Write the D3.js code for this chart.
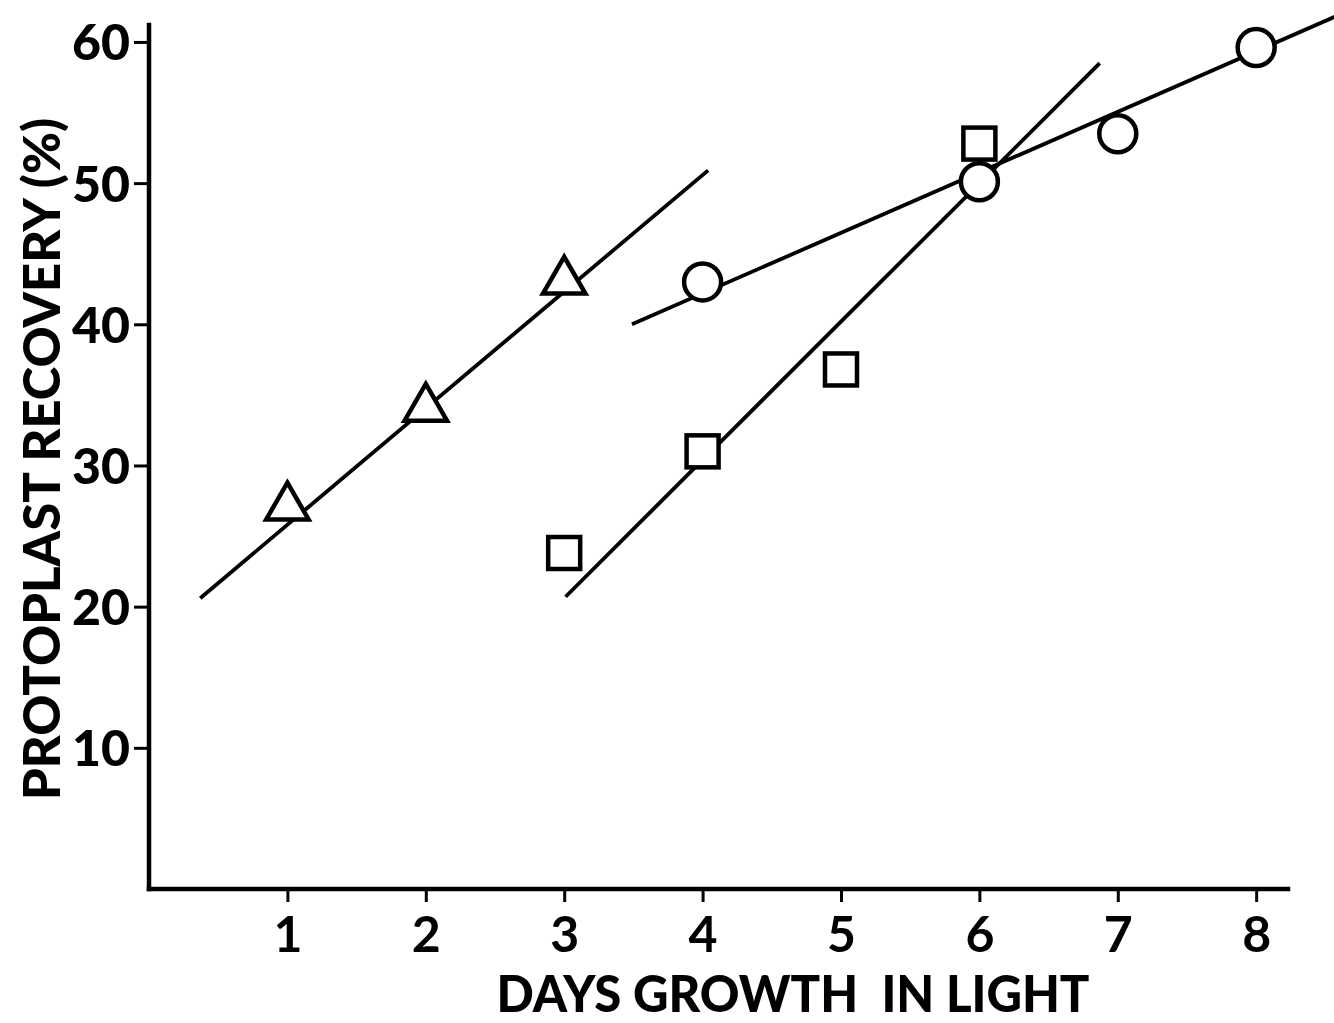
<!DOCTYPE html>
<html>
<head>
<meta charset="utf-8">
<script src="https://cdn.jsdelivr.net/npm/d3@7"></script>
<style>
  body { margin: 0; background: #fff; }
  text { font-family: Lato, "Open Sans", sans-serif; font-weight: 700; fill: #000; }
</style>
</head>
<body>
<svg id="chart" width="1334" height="1023"></svg>
<script>
// data
var xTicks = [1, 2, 3, 4, 5, 6, 7, 8];
var yTicks = [10, 20, 30, 40, 50, 60];

var triangleDays = [1, 2, 3];
var triangleVals = [26.9, 33.9, 42.9];
var circleDays = [4, 6, 7, 8];
var circleVals = [43.0, 50.1, 53.5, 59.6];
var squareDays = [3, 4, 5, 6];
var squareVals = [23.8, 31.0, 36.8, 52.8];

// hand-drawn fitted lines, endpoints [day, %]
var triangleFit = [[0.37, 20.6], [4.04, 50.9]];
var circleFit = [[3.49, 40.0], [8.62, 62.0]];
var squareFit = [[3.01, 20.7], [6.87, 58.5]];

var svg = d3.select("#chart");

var x = d3.scaleLinear().domain([0, 8.23]).range([149, 1288]);
var y = d3.scaleLinear().domain([0, 61.2]).range([889, 25]);

// axes
var yAxis = d3.axisLeft(y).tickValues(yTicks).tickSize(15).tickSizeOuter(0).tickPadding(4);
var xAxis = d3.axisBottom(x).tickValues(xTicks).tickSize(13).tickSizeOuter(0).tickPadding(14);

var gy = svg.append("g").attr("transform", "translate(" + x(0) + ",0)").call(yAxis);
var gx = svg.append("g").attr("transform", "translate(0," + y(0) + ")").call(xAxis);

[gy, gx].forEach(function (g) {
    g.select(".domain").attr("stroke", "#000").attr("stroke-width", 4.5).attr("stroke-linecap", "square");
    g.selectAll(".tick line").attr("stroke", "#000").attr("stroke-width", 3);
});
gy.select(".domain").attr("d", "M0," + y(61.2) + "V" + y(0));
gx.select(".domain").attr("d", "M" + x(0) + ",0H" + x(8.23));

gy.selectAll(".tick text")
    .attr("font-size", 50).attr("dy", "0.36em")
    .style("font-family", "Lato, sans-serif").style("font-weight", 900);
gx.selectAll(".tick text")
    .attr("font-size", 50).attr("dy", "0.72em")
    .style("font-family", "Lato, sans-serif").style("font-weight", 700);

// axis titles
svg.append("text")
    .attr("x", 793).attr("y", 1012)
    .attr("text-anchor", "middle")
    .attr("font-size", 52)
    .attr("textLength", 593).attr("lengthAdjust", "spacingAndGlyphs")
    .style("font-weight", 900)
    .style("white-space", "pre")
    .text("DAYS GROWTH  IN LIGHT");

svg.append("text")
    .attr("transform", "translate(60,459) rotate(-90)")
    .attr("text-anchor", "middle")
    .attr("font-size", 52)
    .attr("textLength", 682).attr("lengthAdjust", "spacingAndGlyphs")
    .style("font-weight", 900)
    .text("PROTOPLAST RECOVERY (%)");

// fitted lines
var line = d3.line().x(function (d) { return x(d[0]); }).y(function (d) { return y(d[1]); });
[triangleFit, circleFit, squareFit].forEach(function (seg) {
    svg.append("path").attr("d", line(seg))
        .attr("fill", "none").attr("stroke", "#000").attr("stroke-width", 3.8);
});

function zip(a, b) { return a.map(function (v, i) { return [v, b[i]]; }); }

var markerStyle = function (sel) {
    sel.attr("fill", "#fff").attr("stroke", "#000").attr("stroke-width", 4.5);
};

svg.append("g").selectAll("path")
    .data(zip(triangleDays, triangleVals)).enter().append("path")
    .attr("d", d3.symbol().type(d3.symbolTriangle).size(780))
    .attr("transform", function (d) { return "translate(" + x(d[0]) + "," + (y(d[1]) - 2) + ")"; })
    .call(markerStyle);

svg.append("g").selectAll("circle")
    .data(zip(circleDays, circleVals)).enter().append("circle")
    .attr("cx", function (d) { return x(d[0]); })
    .attr("cy", function (d) { return y(d[1]); })
    .attr("r", 18.5)
    .call(markerStyle);

svg.append("g").selectAll("rect")
    .data(zip(squareDays, squareVals)).enter().append("rect")
    .attr("x", function (d) { return x(d[0]) - 16; })
    .attr("y", function (d) { return y(d[1]) - 16; })
    .attr("width", 32).attr("height", 32)
    .call(markerStyle);
</script>
</body>
</html>
